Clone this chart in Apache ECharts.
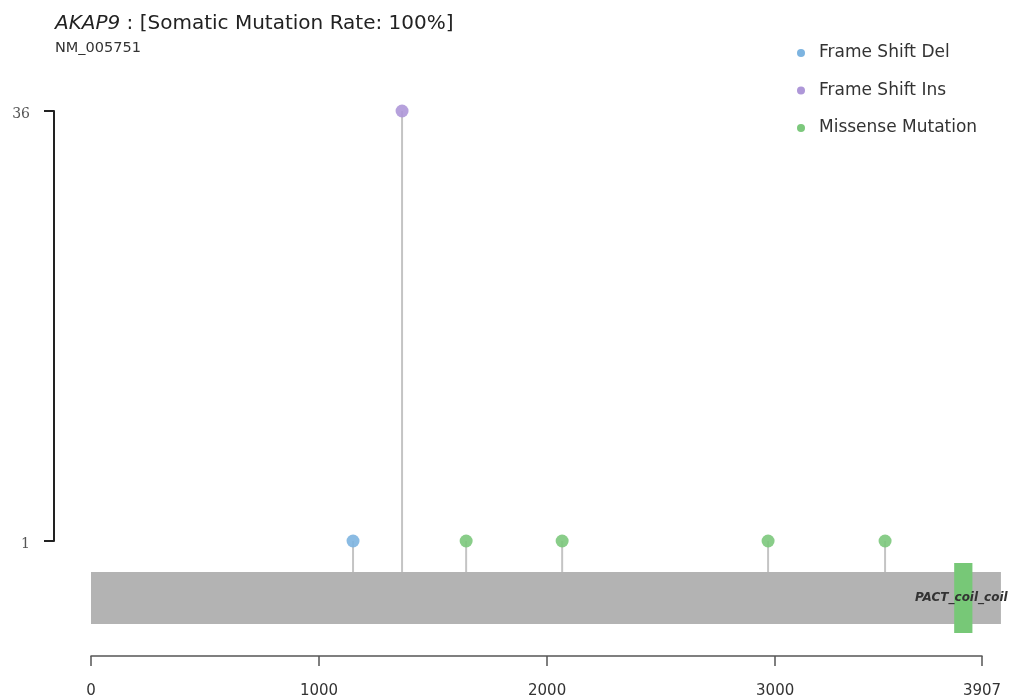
<!DOCTYPE html>
<html>
<head>
<meta charset="utf-8">
<title>AKAP9 lollipop</title>
<script src="https://cdn.jsdelivr.net/npm/echarts@6/dist/echarts.min.js"></script>
<style>
  html, body { margin: 0; padding: 0; background: #fff; }
  #chart { width: 1022px; height: 700px; }
</style>
</head>
<body>
<div id="chart"></div>
<script>
// Mutation positions (amino acid) and counts per mutation class
const mutationTypes = ['Frame Shift Del', 'Frame Shift Ins', 'Missense Mutation'];
const typeColors = ['#7db4e0', '#ae97d8', '#7cc87c'];
const delPositions = [1149];
const delCounts = [1];
const insPositions = [1364];
const insCounts = [36];
const missensePositions = [1645, 2066, 2969, 3482];
const missenseCounts = [1, 1, 1, 1];

// Protein backbone and annotated domains
const proteinLength = 3907;
const backboneEnd = 3990;
const domainNames = ['PACT_coil_coil'];
const domainStarts = [3785];
const domainEnds = [3865];

// Axis ticks
const xTickValues = [0, 1000, 2000, 3000, 3907];
const yTickValues = [1, 36];

const FONT = 'DejaVu Sans';
const BAR_TOP = 572;        // pixel top of the protein backbone (grid 1 top)

const seriesPoints = [
  delPositions.map((p, i) => [p, delCounts[i]]),
  insPositions.map((p, i) => [p, insCounts[i]]),
  missensePositions.map((p, i) => [p, missenseCounts[i]])
];

function lollipop(color) {
  return function (params, api) {
    const pt = api.coord([api.value(0), api.value(1)]);
    return {
      type: 'group',
      children: [
        {
          type: 'line',
          shape: { x1: pt[0], y1: pt[1], x2: pt[0], y2: BAR_TOP },
          style: { stroke: '#c4c4c4', lineWidth: 2 },
          z2: 1
        },
        {
          type: 'circle',
          shape: { cx: pt[0], cy: pt[1], r: 6.5 },
          style: { fill: color, opacity: 0.9 },
          z2: 2
        }
      ]
    };
  };
}

const chart = echarts.init(document.getElementById('chart'), null, { renderer: 'canvas' });

const option = {
  backgroundColor: '#ffffff',
  animation: false,
  title: {
    left: 50,
    top: 9,
    text: '{i|AKAP9} : [Somatic Mutation Rate: 100%]',
    textStyle: {
      fontFamily: FONT, fontSize: 20, fontWeight: 'normal', color: '#222',
      rich: { i: { fontFamily: FONT, fontSize: 20, fontStyle: 'italic', color: '#222' } }
    },
    subtext: 'NM_005751',
    subtextStyle: { fontFamily: FONT, fontSize: 14.5, color: '#333' },
    itemGap: 7
  },
  legend: {
    orient: 'vertical',
    left: 792,
    top: 38,
    icon: 'circle',
    itemWidth: 26,
    itemHeight: 8,
    itemGap: 17.5,
    data: mutationTypes,
    textStyle: { fontFamily: FONT, fontSize: 17, color: '#333', lineHeight: 20 }
  },
  grid: [
    { left: 91, right: 40, top: 111, height: 430 },
    { left: 91, right: 40, top: BAR_TOP, bottom: 44 }
  ],
  xAxis: [
    { gridIndex: 0, type: 'value', min: 0, max: proteinLength, show: false },
    {
      gridIndex: 1, type: 'value', min: 0, max: proteinLength, position: 'bottom',
      axisLine: { show: true, onZero: false, lineStyle: { color: '#555', width: 1.5 } },
      axisTick: { show: true, length: 10, customValues: xTickValues, lineStyle: { color: '#555', width: 1.5 } },
      axisLabel: {
        show: true, margin: 28, customValues: xTickValues,
        formatter: v => String(v),
        fontFamily: FONT, fontSize: 15, color: '#333'
      },
      splitLine: { show: false }
    }
  ],
  yAxis: [
    {
      gridIndex: 0, type: 'value', min: 1, max: 36, offset: 37,
      axisLine: { show: true, onZero: false, lineStyle: { color: '#222', width: 2 } },
      axisTick: { show: true, length: 10, customValues: yTickValues, lineStyle: { color: '#222', width: 2 } },
      axisLabel: {
        show: true, margin: 22, customValues: yTickValues,
        formatter: v => '{n|' + v + '}',
        rich: {
          n: { fontFamily: 'DejaVu Serif', fontSize: 14, color: '#555', padding: [6, 2, 0, 0] }
        }
      },
      splitLine: { show: false }
    },
    { gridIndex: 1, type: 'value', min: 0, max: 84, inverse: true, show: false }
  ],
  series: [
    // protein backbone
    {
      type: 'custom',
      xAxisIndex: 1, yAxisIndex: 1,
      silent: true,
      clip: false,
      data: [[0, backboneEnd]],
      renderItem: function (params, api) {
        const a = api.coord([api.value(0), 0]);
        const b = api.coord([api.value(1), 52]);
        return {
          type: 'rect',
          shape: { x: a[0], y: a[1], width: b[0] - a[0], height: b[1] - a[1] },
          style: { fill: '#b3b3b3' }
        };
      },
      z: 1
    },
    // domains
    {
      type: 'custom',
      xAxisIndex: 1, yAxisIndex: 1,
      silent: true,
      clip: false,
      data: domainNames.map((n, i) => [domainStarts[i], domainEnds[i]]),
      renderItem: function (params, api) {
        const a = api.coord([api.value(0), -9]);
        const b = api.coord([api.value(1), 61]);
        const mid = api.coord([(api.value(0) + api.value(1)) / 2, 26]);
        return {
          type: 'group',
          children: [
            {
              type: 'rect',
              shape: { x: a[0], y: a[1], width: b[0] - a[0], height: b[1] - a[1] },
              style: { fill: '#77c877' }
            },
            {
              type: 'text',
              x: mid[0] - 2, y: mid[1],
              style: {
                text: domainNames[params.dataIndex],
                fontFamily: FONT, fontSize: 12, fontWeight: 'bold', fontStyle: 'italic',
                fill: '#333', align: 'center', verticalAlign: 'middle'
              }
            }
          ]
        };
      },
      z: 2
    },
    // mutation lollipops
    ...mutationTypes.map((name, k) => ({
      name: name,
      type: 'custom',
      xAxisIndex: 0, yAxisIndex: 0,
      clip: false,
      itemStyle: { color: typeColors[k] },
      data: seriesPoints[k],
      renderItem: lollipop(typeColors[k]),
      z: 3
    }))
  ]
};

chart.setOption(option);
</script>
</body>
</html>
